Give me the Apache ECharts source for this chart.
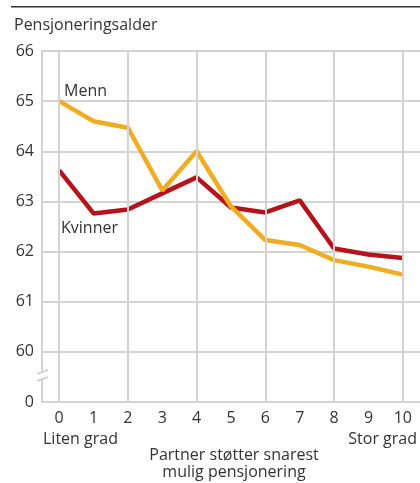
<!DOCTYPE html>
<html>
<head>
<meta charset="utf-8">
<script src="https://cdn.jsdelivr.net/npm/echarts@6/dist/echarts.min.js"></script>
<style>
  html, body { margin: 0; padding: 0; background: #fff; }
  #chart { width: 420px; height: 483px; }
</style>
</head>
<body>
<div id="chart"></div>
<script>
// partner støtter snarest mulig pensjonering, 0-10
var categories = ['0', '1', '2', '3', '4', '5', '6', '7', '8', '9', '10'];
var menn = [65.0, 64.6, 64.47, 63.22, 64.0, 62.9, 62.23, 62.13, 61.83, 61.7, 61.54];
var kvinner = [63.62, 62.76, 62.84, 63.16, 63.48, 62.88, 62.78, 63.02, 62.06, 61.94, 61.87];
var yTicks = [59, 60, 61, 62, 63, 64, 65, 66]; // 59 vises som 0 (brudd i aksen)
var vGrid = ['0', '2', '4', '6', '8', '10'];

var font = '"Open Sans", sans-serif';
var txt = '#333';
var gridCol = '#d3d3d3';

var chart = echarts.init(document.getElementById('chart'));
var option = {
  animation: false,
  textStyle: { fontFamily: font },
  grid: { left: 42, right: 0, top: 51, bottom: 81 },
  xAxis: {
    type: 'category',
    data: categories,
    boundaryGap: true,
    axisLine: { lineStyle: { color: gridCol, width: 2 } },
    axisTick: { alignWithLabel: true, inside: true, length: 9, lineStyle: { color: gridCol, width: 2 } },
    axisLabel: { color: txt, fontSize: 16, margin: 8, fontFamily: font },
    splitLine: { show: false }
  },
  yAxis: {
    type: 'value',
    min: yTicks[0],
    max: yTicks[yTicks.length - 1],
    interval: 1,
    axisLine: { show: true, lineStyle: { color: gridCol, width: 2 } },
    axisTick: { show: false },
    axisLabel: {
      color: txt, fontSize: 16, margin: 8, fontFamily: font,
      formatter: function (v) { return v === yTicks[0] ? '0' : String(v); }
    },
    splitLine: { lineStyle: { color: gridCol, width: 2 } }
  },
  series: [
    {
      name: 'Kvinner',
      type: 'line',
      data: kvinner,
      symbol: 'none',
      z: 3,
      lineStyle: { color: '#b5121b', width: 4.5 },
      markLine: {
        silent: true,
        symbol: 'none',
        label: { show: false },
        lineStyle: { color: gridCol, width: 2, type: 'solid' },
        data: vGrid.map(function (c) { return { xAxis: c }; })
      }
    },
    {
      name: 'Menn',
      type: 'line',
      data: menn,
      symbol: 'none',
      z: 4,
      lineStyle: { color: '#f0ac22', width: 4.5 }
    }
  ],
  graphic: [
    { type: 'rect', shape: { x: 11, y: 6, width: 409, height: 1.5 }, style: { fill: '#333' }, z: 20 },
    { type: 'text', left: 14, top: 17, style: { text: 'Pensjoneringsalder', fill: txt, font: '16px ' + font } },
    // brudd i y-aksen
    { type: 'rect', shape: { x: 36, y: 371, width: 12, height: 9 }, style: { fill: '#fff' }, z: 10 },
    { type: 'line', shape: { x1: 37, y1: 374, x2: 48, y2: 370 }, style: { stroke: gridCol, lineWidth: 2 }, z: 11 },
    { type: 'line', shape: { x1: 37, y1: 381, x2: 48, y2: 377 }, style: { stroke: gridCol, lineWidth: 2 }, z: 11 },
    { type: 'text', left: 64, top: 83, style: { text: 'Menn', fill: txt, font: '16px ' + font }, z: 10 },
    { type: 'text', left: 61, top: 220, style: { text: 'Kvinner', fill: txt, font: '16px ' + font }, z: 10 },
    { type: 'text', left: 43, top: 431, style: { text: 'Liten grad', fill: txt, font: '16px ' + font } },
    { type: 'text', right: 3, top: 431, style: { text: 'Stor grad', fill: txt, font: '16px ' + font } },
    {
      type: 'text', x: 234, y: 447,
      style: {
        text: 'Partner støtter snarest\nmulig pensjonering', fill: txt,
        font: '16px ' + font, align: 'center', lineHeight: 17
      }
    }
  ]
};
chart.setOption(option);
</script>
</body>
</html>
